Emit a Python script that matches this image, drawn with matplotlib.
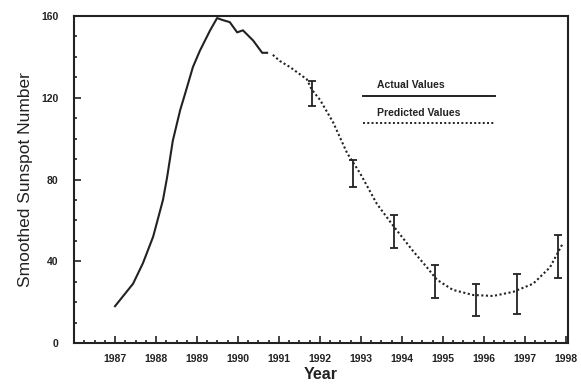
import matplotlib
matplotlib.use('Agg')
from matplotlib import pyplot as plt
from matplotlib.ticker import MultipleLocator
import numpy as np

plt.rcParams['font.family'] = ['Liberation Sans', 'DejaVu Sans']

# observed smoothed sunspot numbers
actual_years = [1987.0, 1987.44, 1987.68, 1987.93, 1988.17, 1988.27, 1988.41, 1988.59,
                1988.71, 1988.90, 1989.07, 1989.32, 1989.49, 1989.63, 1989.80, 1989.98,
                1990.12, 1990.37, 1990.59, 1990.71]
actual_values = [18, 29, 39, 52, 70, 81, 99, 114, 122, 135, 143, 153, 159, 158, 157, 152,
                 153, 148, 142, 142]

# predicted curve
pred_years = [1990.85, 1991.02, 1991.27, 1991.68, 1991.80, 1992.00, 1992.32, 1992.66,
              1992.98, 1993.39, 1993.80, 1994.27, 1994.61, 1994.85, 1995.24, 1995.73,
              1996.22, 1996.71, 1997.20, 1997.61, 1997.93]
pred_values = [141, 138, 135, 129, 124, 119, 108, 93, 83, 68, 57, 45, 37, 31, 26, 23.5,
               23, 25, 29, 37, 49]

# yearly predictions with uncertainty
err_years = [1991.8, 1992.8, 1993.8, 1994.8, 1995.8, 1996.8, 1997.8]
err_centers = [122, 83, 54.5, 30, 21, 24, 42.5]
err_half = [6, 6.5, 8, 8, 8, 10, 10.5]

year_ticks = list(range(1987, 1999))

ink = '#222222'

fig = plt.figure(figsize=(5.81, 3.84), dpi=100)
ax = fig.add_axes([0.1274, 0.1068, 0.8502, 0.8515])

ax.plot(actual_years, actual_values, color=ink, lw=1.5)
ax.plot(pred_years, pred_values, color=ink, lw=1.5, linestyle=(0, (1, 1.2)))
ax.errorbar(err_years, err_centers, yerr=err_half, fmt='none', ecolor=ink,
            elinewidth=1.3, capsize=3, capthick=1.3)

ax.set_xlim(1986, 1998.05)
ax.set_ylim(0, 160)
ax.set_xticks(year_ticks)
ax.set_xticklabels([str(y) for y in year_ticks])
ax.set_yticks([0, 40, 80, 120, 160])
ax.xaxis.set_minor_locator(MultipleLocator(0.25))
ax.yaxis.set_minor_locator(MultipleLocator(10))
ax.tick_params(which='both', direction='in', colors=ink, width=1.2,
               labelsize=7.5, top=False, right=False)
ax.tick_params(which='major', length=5)
ax.tick_params(which='minor', length=2.5)
ax.tick_params(axis='x', pad=8)
ax.tick_params(axis='y', pad=11)
for lab in ax.get_xticklabels() + ax.get_yticklabels():
    lab.set_fontweight('bold')
for sp in ax.spines.values():
    sp.set_linewidth(1.5)
    sp.set_color(ink)

ax.set_ylabel('Smoothed Sunspot Number', fontsize=12.5, color=ink, labelpad=6)
ax.set_xlabel('Year', fontsize=11.5, fontweight='bold', color=ink, labelpad=2)

# legend with the label sitting above each line sample
ax.text(0.613, 0.789, 'Actual Values', transform=ax.transAxes, fontsize=7.5,
        fontweight='bold', color=ink, va='center', ha='left')
ax.plot([0.585, 0.852], [0.755, 0.755], transform=ax.transAxes, color=ink, lw=1.4)
ax.text(0.613, 0.703, 'Predicted Values', transform=ax.transAxes, fontsize=7.5,
        fontweight='bold', color=ink, va='center', ha='left')
ax.plot([0.585, 0.852], [0.673, 0.673], transform=ax.transAxes, color=ink, lw=1.4,
        linestyle=(0, (1, 1.2)))

fig.savefig('out.png', dpi=100)
